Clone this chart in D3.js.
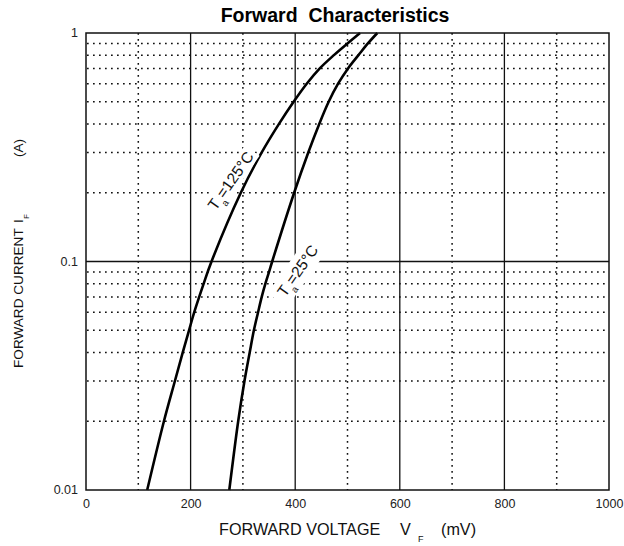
<!DOCTYPE html>
<html>
<head>
<meta charset="utf-8">
<script src="https://cdn.jsdelivr.net/npm/d3@7"></script>
<style>
  html, body { margin: 0; padding: 0; background: #fff; }
  svg { display: block; font-family: "Liberation Sans", Arial, sans-serif; }
</style>
</head>
<body>
<svg id="chart" width="624" height="546"></svg>
<script>
// ---- data ----
const xTickValues = [0, 200, 400, 600, 800, 1000];
const xGridValues = [100, 200, 300, 400, 500, 600, 700, 800, 900];
const yTickValues = [0.01, 0.1, 1];
const yTickLabels = ["0.01", "0.1", "1"];

// Ta = 125°C
const vf125 = [117, 149, 170, 185, 197, 207, 225, 240, 296, 336, 369, 397, 422, 447, 474, 500, 524];
const if125 = [0.01, 0.02, 0.03, 0.04, 0.05, 0.06, 0.08, 0.1, 0.2, 0.3, 0.4, 0.5, 0.6, 0.7, 0.8, 0.9, 1.0];
// Ta = 25°C
const vf25 = [274, 291, 303, 313, 321, 329, 336, 343, 350, 356, 398, 425, 446, 464, 482, 501, 521, 539, 557];
const if25 = [0.01, 0.02, 0.03, 0.04, 0.05, 0.06, 0.07, 0.08, 0.09, 0.1, 0.2, 0.3, 0.4, 0.5, 0.6, 0.7, 0.8, 0.9, 1.0];

const titleText = "Forward  Characteristics";

// ---- layout ----
const L = 86, R = 609, T = 33, B = 490;
const svg = d3.select("#chart");
const x = d3.scaleLinear().domain([0, 1000]).range([L, R]);
const y = d3.scaleLog().domain([0.01, 1]).range([B, T]);

const grid = svg.append("g");
// horizontal minor dotted lines
const yMinor = y.ticks().filter(v => yTickValues.every(t => Math.abs(Math.log10(v) - Math.log10(t)) > 1e-6));
grid.selectAll("line.hmin").data(yMinor).join("line")
  .attr("x1", L).attr("x2", R)
  .attr("y1", d => y(d)).attr("y2", d => y(d))
  .attr("stroke", "#111").attr("stroke-width", 1.5)
  .attr("stroke-dasharray", "1.7,4.3").attr("stroke-dashoffset", -7);
// vertical grid
grid.selectAll("line.v").data(xGridValues).join("line")
  .attr("x1", d => x(d)).attr("x2", d => x(d))
  .attr("y1", T).attr("y2", B)
  .attr("stroke", "#111")
  .attr("stroke-width", d => d % 200 === 0 ? 1.3 : 1.5)
  .attr("stroke-dasharray", d => d % 200 === 0 ? null : "1.7,4.3");
// solid 0.1 line
grid.append("line")
  .attr("x1", L).attr("x2", R).attr("y1", y(0.1)).attr("y2", y(0.1))
  .attr("stroke", "#111").attr("stroke-width", 1.3);

// curves
const line = d3.line().x(d => x(d[0])).y(d => y(d[1])).curve(d3.curveCatmullRom.alpha(0.5));
const c125 = vf125.map((v, i) => [v, if125[i]]);
const c25 = vf25.map((v, i) => [v, if25[i]]);
svg.append("path").attr("d", line(c125)).attr("fill", "none").attr("stroke", "#000").attr("stroke-width", 2.6);
svg.append("path").attr("d", line(c25)).attr("fill", "none").attr("stroke", "#000").attr("stroke-width", 2.6);

// border
svg.append("rect").attr("x", L).attr("y", T).attr("width", R - L).attr("height", B - T)
  .attr("fill", "none").attr("stroke", "#111").attr("stroke-width", 1.5);

// axes labels
const xAxis = d3.axisBottom(x).tickValues(xTickValues).tickSize(0).tickPadding(0).tickFormat(d3.format("d"));
const gx = svg.append("g").attr("transform", `translate(0,${B})`).call(xAxis);
gx.select(".domain").remove();
gx.selectAll("text").attr("dy", null).attr("y", 18).attr("font-size", 12.5)
  .attr("font-family", "Liberation Sans, Arial, sans-serif").attr("fill", "#222");

const yAxis = d3.axisLeft(y).tickValues(yTickValues).tickSize(0).tickPadding(0)
  .tickFormat((d, i) => yTickLabels[i]);
const gy = svg.append("g").attr("transform", `translate(${L - 8},0)`).call(yAxis);
gy.select(".domain").remove();
gy.selectAll("text").attr("x", 0).attr("dy", "0.3em").attr("font-size", 12.5)
  .attr("font-family", "Liberation Sans, Arial, sans-serif").attr("fill", "#222");

// title
svg.append("text").attr("x", 335).attr("y", 22).attr("text-anchor", "middle")
  .attr("font-size", 19.5).attr("font-weight", "bold").style("white-space", "pre")
  .text(titleText);

// x axis title
const xt = svg.append("g").attr("fill", "#111");
xt.append("text").attr("x", 219).attr("y", 535).attr("font-size", 16.2).text("FORWARD VOLTAGE");
xt.append("text").attr("x", 400).attr("y", 535).attr("font-size", 16.2).text("V");
xt.append("text").attr("x", 418).attr("y", 542).attr("font-size", 9).text("F");
xt.append("text").attr("x", 441).attr("y", 535).attr("font-size", 16.2).text("(mV)");

// y axis title (rotated)
const yt = svg.append("g").attr("fill", "#111");
yt.append("text").attr("transform", "translate(23,368) rotate(-90)").attr("font-size", 13.6).text("FORWARD CURRENT");
yt.append("text").attr("transform", "translate(23,223) rotate(-90)").attr("font-size", 13.6).text("I");
yt.append("text").attr("transform", "translate(29,219) rotate(-90)").attr("font-size", 8).text("F");
yt.append("text").attr("transform", "translate(23,157) rotate(-90)").attr("font-size", 13.6).text("(A)");

// curve labels
function curveLabel(cx, cy, angle, temp, w, h) {
  const g = svg.append("g").attr("transform", `translate(${cx},${cy}) rotate(${angle})`);
  g.append("rect").attr("x", -w / 2).attr("y", -h / 2).attr("width", w).attr("height", h).attr("fill", "#fff");
  const t = g.append("text").attr("text-anchor", "middle").attr("y", 5).attr("font-size", 15.5).attr("fill", "#111");
  t.append("tspan").text("T");
  t.append("tspan").attr("font-size", 9.5).attr("dy", 6).text("a");
  t.append("tspan").attr("dy", -6).text("=" + temp + "°C");
}
curveLabel(231, 181, -55, "125", 74, 18);
curveLabel(298, 271, -55, "25", 72, 24);
</script>
</body>
</html>
